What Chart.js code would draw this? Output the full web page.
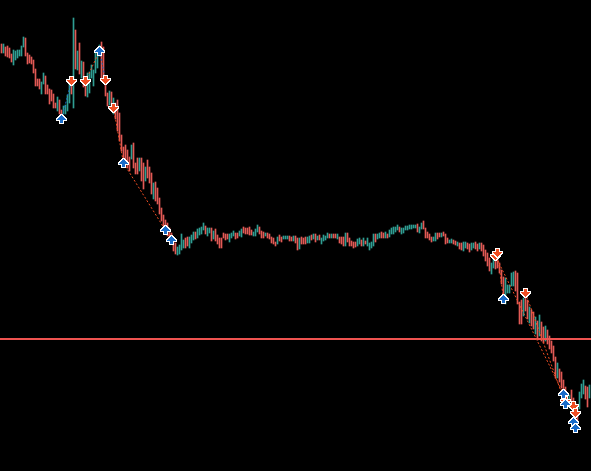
<!DOCTYPE html>
<html>
<head>
<meta charset="UTF-8">
<title>Grafico</title>
<script src="https://cdn.jsdelivr.net/npm/chart.js@4.4.1/dist/chart.umd.min.js"></script>
<style>
  html, body { margin: 0; padding: 0; background: #000; overflow: hidden; }
  #contenedor { width: 591px; height: 471px; position: relative; background: #000; }
</style>
</head>
<body>
<div id="contenedor"><canvas id="grafico"></canvas></div>
<script>
// maximos / minimos de cada barra (precio en puntos)
const maximos = [
  456,456,453,454,452,446,450,449,450,450, 454,463,462,447,445,443,440,431,421,421,
  418,427,424,415,411,410,406,397,403,400, 390,394,395,405,417,420,482,470,449,457,
  439,438,418,427,428,435,430,447,448,455, 458,453,420,407,409,408,402,397,400,387,
  365,353,355,350,343,355,357,337,342,342, 342,337,333,340,333,327,317,318,312,302,
  292,285,280,277,272,267,262,257,253,255, 266,260,262,263,263,265,268,268,271,272,
  273,277,274,272,272,272,269,271,265,262, 262,267,266,266,266,267,269,267,267,269,
  271,273,272,272,273,270,268,271,275,273, 269,268,267,267,266,263,262,258,263,265,
  263,264,264,264,264,263,264,264,262,262, 263,262,263,263,264,265,266,266,264,265,
  262,265,264,267,266,266,266,266,266,263, 263,263,267,267,262,259,258,258,261,262,
  260,262,259,262,257,258,266,266,266,267, 268,267,268,266,270,272,273,273,275,273,
  272,272,274,274,275,275,275,275,276,273, 277,279,272,268,266,263,263,267,267,267,
  267,268,266,262,260,261,260,259,258,257, 257,258,258,257,256,257,257,258,256,257,
  257,255,250,247,242,237,245,248,242,237, 230,223,222,215,215,227,228,229,227,198,
  200,202,204,200,193,190,188,183,179,185, 178,173,174,170,164,159,154,143,137,131,
  128,120,113,107,105,110,102,97,93,108, 116,120,114,113,115
];
const minimos = [
  447,447,444,443,442,438,435,440,442,444, 444,453,444,436,437,436,427,414,414,411,
  406,416,406,406,396,399,392,392,389,386, 384,386,386,389,397,406,392,431,430,426,
  422,413,404,403,407,422,414,427,432,444, 419,419,404,394,395,392,386,381,369,359,
  349,341,337,332,329,341,332,326,326,329, 319,311,319,322,317,306,301,299,296,286,
  279,274,269,264,261,256,249,246,245,246, 250,252,252,254,252,257,260,261,262,265,
  266,270,266,264,267,259,261,259,256,252, 252,262,260,261,258,262,264,261,262,264,
  263,267,266,266,265,265,264,264,268,266, 262,262,264,262,261,257,256,254,256,259,
  258,261,261,261,259,259,259,257,250,251, 256,256,256,257,257,260,261,258,260,260,
  256,259,260,262,262,262,262,262,261,257, 256,254,254,258,254,254,252,253,254,256,
  254,254,256,254,250,252,254,258,261,262, 262,262,262,262,263,266,266,268,270,268,
  266,267,270,270,271,271,272,272,268,267, 271,271,262,262,260,258,259,259,261,263,
  263,264,256,257,257,257,256,255,254,251, 250,249,252,251,248,250,252,251,249,251,
  249,244,239,234,229,226,232,231,232,227, 216,202,196,207,207,214,214,209,196,176,
  176,184,189,181,177,174,171,166,160,164, 159,157,159,156,151,147,139,122,122,118,
  112,105,101,96,92,97,91,87,79,91, 102,106,101,93,102
];
// u = barra alcista, d = barra bajista
const direccion = (
  "dudddduuuu" + "uudddddddd" + "uuddddddud" + "duuuududud" + "udduuuuuuu" +
  "ddddududdd" + "dddddudddu" + "dduddduddd" + "dddddddduu" + "uudduuuduu" +
  "uuduududdd" + "dddduuuddu" + "uddddduuud" + "ddudddddud" + "duuudduddu" +
  "ddduududud" + "uuuududdud" + "dduddddduu" + "duduuuuduu" + "dduduuuuud" +
  "uuuuuuuudu" + "uddddduudd" + "uddduuddud" + "duudduuddu" + "ddddduuddd" +
  "dduuuuuddd" + "dudduddudu" + "ddudddddud" + "ddduuddddu" + "uuddu"
).split('');

// flechas de operaciones (indice de barra, precio)
const compraX = [30, 49, 61, 82, 85, 251, 281, 282, 286, 287];
const compraY = [381, 449, 337, 270, 260, 201, 106, 96, 78, 72];
const ventaX = [35, 42, 52, 56, 247, 248, 262, 282, 286, 287];
const ventaY = [419, 419, 420, 392, 244, 247, 207, 99, 94, 87];

// lineas punteadas entre apertura y cierre: [x1, y1, x2, y2]
const lineasCompra = [[30, 381, 35, 419], [49, 449, 52, 420]];
const lineasVenta = [
  [42, 419, 49, 449], [56, 392, 61, 337], [61, 337, 85, 260],
  [248, 247, 251, 201], [247, 244, 281, 106], [262, 207, 282, 96]
];

// nivel horizontal
const nivel = 161;

const colorSube = '#2f9e93';
const colorBaja = '#e25a55';
const colorNivel = '#ef5350';
const colorCompra = '#1a6cc8';
const colorVenta = '#f04e23';

function crearFlecha(color, haciaArriba) {
  const forma = [[4, 4], [3, 5], [2, 6], [1, 7], [0, 8], [3, 5], [3, 5], [3, 5]];
  const filas = haciaArriba ? forma : forma.slice().reverse();
  const c = document.createElement('canvas');
  c.width = 11;
  c.height = 10;
  const g = c.getContext('2d');
  g.fillStyle = '#ffffff';
  filas.forEach(([a, b], r) => g.fillRect(a, r, b - a + 3, 3));
  g.fillStyle = color;
  filas.forEach(([a, b], r) => g.fillRect(a + 1, r + 1, b - a + 1, 1));
  return c;
}

const flechaCompra = crearFlecha(colorCompra, true);
const flechaVenta = crearFlecha(colorVenta, false);

const barras = maximos.map((h, i) => ({ x: i, y: [minimos[i], h] }));
const coloresBarras = direccion.map(d => d === 'u' ? colorSube : colorBaja);

function lineaPunteada(seg, color) {
  return {
    type: 'line',
    data: [{ x: seg[0], y: seg[1] }, { x: seg[2], y: seg[3] }],
    borderColor: color,
    borderWidth: 1,
    borderDash: [2, 2],
    pointRadius: 0,
    fill: false,
    order: 1
  };
}

const datasets = [
  {
    type: 'bar',
    data: barras,
    backgroundColor: coloresBarras,
    borderWidth: 0,
    barThickness: 1,
    grouped: false,
    order: 3
  },
  {
    type: 'line',
    data: [{ x: -0.75, y: nivel }, { x: 294.75, y: nivel }],
    borderColor: colorNivel,
    borderWidth: 2,
    pointRadius: 0,
    order: 2
  }
];

lineasCompra.forEach(s => datasets.push(lineaPunteada(s, colorCompra)));
lineasVenta.forEach(s => datasets.push(lineaPunteada(s, colorVenta)));

datasets.push({
  type: 'line',
  showLine: false,
  data: compraX.map((x, i) => ({ x: x, y: compraY[i] })),
  pointStyle: flechaCompra,
  pointRadius: 5,
  order: 0
});
datasets.push({
  type: 'line',
  showLine: false,
  data: ventaX.map((x, i) => ({ x: x, y: ventaY[i] })),
  pointStyle: flechaVenta,
  pointRadius: 5,
  order: 0
});

const ctx = document.getElementById('grafico').getContext('2d');
const chart = new Chart(ctx, {
  type: 'bar',
  data: { datasets: datasets },
  options: {
    responsive: true,
    maintainAspectRatio: false,
    animation: false,
    events: [],
    layout: { autoPadding: false, padding: 0 },
    plugins: {
      legend: { display: false },
      tooltip: { enabled: false }
    },
    scales: {
      x: { type: 'linear', min: -0.75, max: 294.75, display: false, offset: false },
      y: { type: 'linear', min: 29, max: 500, display: false }
    }
  }
});
</script>
</body>
</html>
